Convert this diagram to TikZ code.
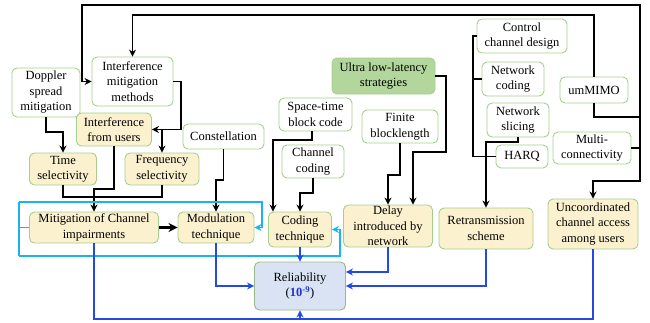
\documentclass[tikz,border=0pt]{standalone}
\usepackage{fontspec}
\setmainfont{Liberation Serif}
\usetikzlibrary{arrows.meta}
\definecolor{boxedge}{RGB}{165,207,140}
\definecolor{beige}{RGB}{252,241,206}
\definecolor{relfill}{RGB}{218,227,243}
\definecolor{greenfill}{RGB}{178,214,155}
\definecolor{linkblue}{RGB}{35,75,225}
\definecolor{linkcyan}{RGB}{25,180,240}
\definecolor{numblue}{RGB}{30,50,205}
\tikzset{
  box/.style={draw=boxedge, line width=0.9pt, rounded corners=5pt, fill=white,
    align=center, inner sep=1pt, font=\rmfamily\fontsize{12.5}{15.5}\selectfont},
  wbox/.style={box},
  ybox/.style={box, fill=beige},
  link/.style={line width=1.4pt, draw=black},
  arr/.style={-{Stealth[length=7pt,width=7pt]}},
  blink/.style={line width=1.4pt, draw=linkblue},
  clink/.style={line width=1.4pt, draw=linkcyan},
}
\begin{document}
\begin{tikzpicture}[x=1pt,y=-1pt]
\useasboundingbox (0,0) rectangle (650,322);

% boxes
\node[wbox, minimum width=68pt, minimum height=49pt] (dop) at (46,92.5) {Doppler\\spread\\mitigation};
\node[wbox, minimum width=81pt, minimum height=49pt] (imm) at (132.5,81.5) {Interference\\mitigation\\methods};
\node[ybox, minimum width=75pt, minimum height=33pt] (ifu) at (114,129.5) {Interference\\from users};
\node[wbox, minimum width=81pt, minimum height=25pt] (con) at (223.5,136.5) {Constellation};
\node[ybox, minimum width=67pt, minimum height=32pt] (tim) at (63,169) {Time\\selectivity};
\node[ybox, minimum width=74pt, minimum height=32pt] (fre) at (162,169) {Frequency\\selectivity};
\node[ybox, minimum width=129pt, minimum height=31pt] (mit) at (94,227.5) {Mitigation of Channel\\impairments};
\node[ybox, minimum width=76pt, minimum height=31pt] (mod) at (216,227.5) {Modulation\\technique};
\node[ybox, minimum width=63pt, minimum height=35pt] (cod) at (300,229.5) {Coding\\technique};
\node[ybox, minimum width=89pt, minimum height=42pt] (del) at (388,226) {Delay\\introduced by\\network};
\node[ybox, minimum width=94pt, minimum height=41pt] (ret) at (486,228.5) {Retransmission\\scheme};
\node[ybox, minimum width=90pt, minimum height=50pt] (unc) at (593,224) {Uncoordinated\\channel access\\among users};
\node[box, fill=relfill, draw=boxedge!70!gray, minimum width=91pt, minimum height=48pt] (rel) at (300,286)
  {Reliability\\(\textcolor{numblue}{\textbf{10\textsuperscript{-9}}})};
\node[wbox, minimum width=73pt, minimum height=33pt] (stb) at (315.5,114.5) {Space-time\\block code};
\node[wbox, minimum width=62pt, minimum height=33pt] (chc) at (313,161.5) {Channel\\coding};
\node[box, fill=greenfill, minimum width=103pt, minimum height=36pt] (ull) at (383.5,76) {Ultra low-latency\\strategies};
\node[wbox, minimum width=76pt, minimum height=33pt] (fin) at (400,126.5) {Finite\\blocklength};
\node[wbox, minimum width=90pt, minimum height=34pt] (ccd) at (522,36) {Control\\channel design};
\node[wbox, minimum width=62pt, minimum height=34pt] (nco) at (513,79) {Network\\coding};
\node[wbox, minimum width=62pt, minimum height=34pt] (nsl) at (518,120) {Network\\slicing};
\node[wbox, minimum width=52pt, minimum height=23pt] (hrq) at (522,156.5) {HARQ};
\node[wbox, minimum width=68pt, minimum height=26pt] (umm) at (594,90) {umMIMO};
\node[wbox, minimum width=78pt, minimum height=32pt] (mul) at (592,148) {Multi-\\connectivity};

% right-hand bus feeding the interference and access boxes
\coordinate (busT) at (640,5);
\coordinate (busB) at (640,181);
\draw[link] (umm.south) -- (594,117) -- (640,117);
\draw[link] (mul.east) -- (640,148);
\draw[link,arr] (busB) -- (busT) -- (82,5) -- (82,81.5) -- (imm.west);
\draw[link,arr] (busT) -- (busB) -- (593,181) -- (unc.north);
\draw[link,arr] (umm.north) -- (594,15) -- (132.5,15) -- (imm.north);

% control / coding / HARQ bracket
\draw[link] (ccd.west) -- (473,36) -- (473,156.5) -- (hrq.west);
\draw[link] (nco.west) -- (473,79);
\draw[link,arr] (nsl.south) -- (518,142) -- (486,142) -- (ret.north);

% latency strategies into the delay box
\coordinate (u2) at (413,152);
\draw[link,arr] (ull.east) -- (446,76) -- (446,152) -- (u2) -- (u2 |- del.north);
\draw[link,arr] (fin.south) -- (400,175) -- (388,175) -- (del.north);

% coding inputs
\coordinate (s1) at (312,140);
\coordinate (s2) at (273,140);
\draw[link,arr] (s1 |- stb.south) -- (s1) -- (s2) -- (s2 |- cod.north);
\draw[link,arr] (chc.south) -- (313,193) -- (300,193) -- (cod.north);

% interference and selectivity
\coordinate (c1) at (181,129.5);
\draw[link,arr] (imm.east) -| (c1) -- (ifu.east);
\draw[link,arr] (162,129.5) -- (fre.north);
\draw[link,arr] (dop.south) -- (46,132) -- (63,132) -- (tim.north);
\draw[link] (tim.south) -- (63,197) -- (162,197) -- (fre.south);
\draw[link,arr] (ifu.south) -- (114,189) -- (94,189) -- (mit.north);
\draw[link,arr] (con.south) -- (223.5,180) -- (216,180) -- (mod.north);
\draw[line width=2.2pt,-{Stealth[length=9pt,width=9pt]}] (mit.east) -- (mod.west);

% cyan frame around the physical-layer group
\draw[clink] (mit.west) -- (19,227.5);
\draw[clink] (19,202) -- (19,256);
\draw[clink,arr] (19,202) -- (262,202) -- (262,227.5) -- (mod.east);
\draw[clink,arr] (19,256) -- (340,256) -- (340,229.5) -- (cod.east);

% blue links into reliability
\draw[blink] (mit.south) -- (94,319) -- (593,319) -- (unc.south);
\draw[blink,arr] (300,319) -- (rel.south);
\draw[blink,arr] (mod.south) -- (216,286) -- (rel.west);
\draw[blink,arr] (cod.south) -- (rel.north);
\coordinate (d1) at (388,272);
\draw[blink,arr] (del.south) -- (d1) -- (d1 -| rel.east);
\draw[blink,arr] (ret.south) -- (486,286) -- (rel.east);
\end{tikzpicture}
\end{document}
